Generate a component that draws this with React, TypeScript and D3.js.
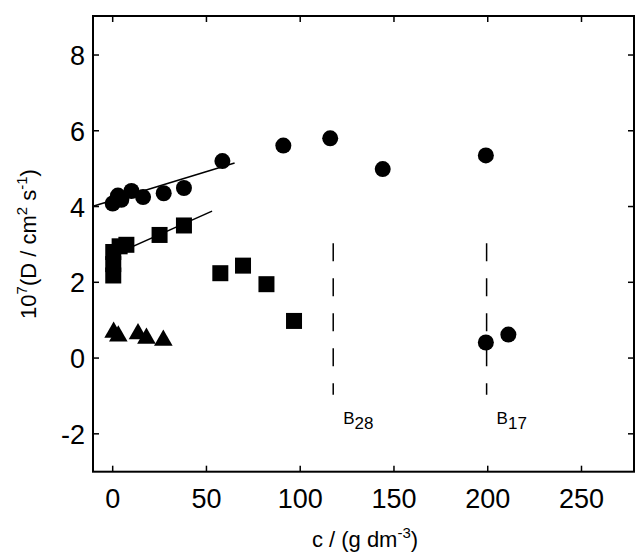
import React from 'react';
import * as d3 from 'd3';

// circles, squares, triangles: [c, D]
const circles: [number, number][] = [
  [0, 4.08], [2.8, 4.29], [4.6, 4.18], [10, 4.41], [16.2, 4.25], [27.2, 4.35],
  [38, 4.49], [58.5, 5.2], [91, 5.61], [116, 5.8], [144, 4.99], [199, 5.35],
  [199, 0.41], [211, 0.62],
];
const squares: [number, number][] = [
  [0.3, 2.8], [0.3, 2.48], [0.3, 2.18], [3.7, 2.95], [7.3, 2.99], [25, 3.25],
  [38, 3.5], [57.4, 2.24], [69.5, 2.44], [82, 1.95], [96.7, 0.98],
];
const triangles: [number, number][] = [
  [0.5, 0.68], [3, 0.58], [13.5, 0.64], [18, 0.52], [27, 0.47],
];
// straight fits [c0, D0, c1, D1]
const fits: [number, number, number, number][] = [
  [-10.5, 4.01, 65, 5.15],
  [0, 2.71, 53, 3.88],
];
// dashed markers at B28 and B17
const markers = [
  { c: 117.6, label: 'B', sub: '28' },
  { c: 199.4, label: 'B', sub: '17' },
];
const xTicks = [0, 50, 100, 150, 200, 250];
const yTicks = [-2, 0, 2, 4, 6, 8];

const W = 636;
const H = 557;
const font = '"Liberation Sans", Arial, Helvetica, sans-serif';

export default function App() {
  const x = d3.scaleLinear().domain([-10.5, 278]).range([93, 634]);
  const y = d3.scaleLinear().domain([-3, 9.03]).range([471.7, 16]);
  const [x0, x1] = x.range();
  const [y0, y1] = y.range();
  const tl = 6;
  const tri = d3.symbol().type(d3.symbolTriangle).size(150)();

  return (
    <svg width={W} height={H} style={{ position: 'absolute', left: 0, top: 0, background: '#fff' }} fontFamily={font}>
      <rect x={x0} y={y1} width={x1 - x0} height={y0 - y1} fill="none" stroke="#000" strokeWidth={2} />
      {xTicks.map((t) => (
        <g key={'x' + t}>
          <line x1={x(t)} x2={x(t)} y1={y0} y2={y0 - tl} stroke="#000" strokeWidth={1.5} />
          <line x1={x(t)} x2={x(t)} y1={y1} y2={y1 + tl} stroke="#000" strokeWidth={1.5} />
          <text x={x(t)} y={508} fontSize={27} textAnchor="middle">{t}</text>
        </g>
      ))}
      {yTicks.map((t) => (
        <g key={'y' + t}>
          <line x1={x0} x2={x0 + tl} y1={y(t)} y2={y(t)} stroke="#000" strokeWidth={1.5} />
          <line x1={x1} x2={x1 - tl} y1={y(t)} y2={y(t)} stroke="#000" strokeWidth={1.5} />
          <text x={85} y={y(t) + 10} fontSize={27} textAnchor="end">{t}</text>
        </g>
      ))}
      {fits.map((f, i) => (
        <line key={'f' + i} x1={x(f[0])} y1={y(f[1])} x2={x(f[2])} y2={y(f[3])} stroke="#000" strokeWidth={1.5} />
      ))}
      {markers.map((m) => (
        <g key={m.sub}>
          <line x1={x(m.c)} x2={x(m.c)} y1={y(3.03)} y2={y(-0.97)} stroke="#000" strokeWidth={1.5} strokeDasharray="18,17" />
          <text x={x(m.c) + 10} y={424} fontSize={17}>
            {m.label}
            <tspan dy={5}>{m.sub}</tspan>
          </text>
        </g>
      ))}
      {circles.map((d, i) => (
        <circle key={'c' + i} cx={x(d[0])} cy={y(d[1])} r={8} fill="#000" />
      ))}
      {squares.map((d, i) => (
        <rect key={'s' + i} x={x(d[0]) - 8} y={y(d[1]) - 8} width={16} height={16} fill="#000" />
      ))}
      {triangles.map((d, i) => (
        <path key={'t' + i} d={tri || ''} transform={`translate(${x(d[0])},${y(d[1])})`} fill="#000" />
      ))}
      <text x={365} y={547} fontSize={22} textAnchor="middle">
        c / (g dm<tspan fontSize={15} dy={-9}>-3</tspan><tspan dy={9}>)</tspan>
      </text>
      <text transform="translate(36,244) rotate(-90)" fontSize={22} textAnchor="middle">
        10<tspan fontSize={15} dy={-9}>7</tspan><tspan dy={9}>(D / cm</tspan><tspan fontSize={15} dy={-9}>2</tspan><tspan dy={9}> s</tspan><tspan fontSize={15} dy={-9}>-1</tspan><tspan dy={9}>)</tspan>
      </text>
    </svg>
  );
}
